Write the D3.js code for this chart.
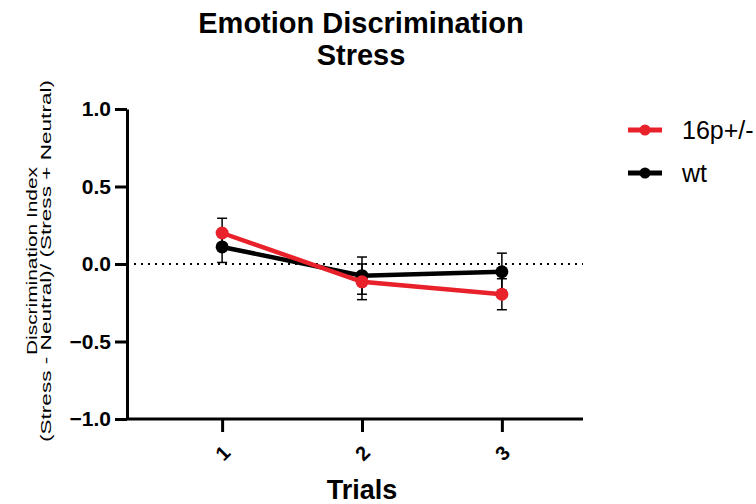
<!DOCTYPE html>
<html>
<head>
<meta charset="utf-8">
<script src="https://cdn.jsdelivr.net/npm/d3@7"></script>
<style>
  body { margin: 0; background: #fff; }
  text { font-family: "Liberation Sans", Arial, sans-serif; }
</style>
</head>
<body>
<svg id="chart" width="756" height="504"></svg>
<script>
// data
const trials = [1, 2, 3];
const seriesNames = ['16p+/-', 'wt'];
const seriesColors = ['#e8212b', '#000000'];
const mutMean = [0.20, -0.115, -0.195];
const mutSem = [0.095, 0.115, 0.10];
const wtMean = [0.11, -0.075, -0.05];
const wtSem = [0.10, 0.12, 0.12];
const yTicks = [-1.0, -0.5, 0.0, 0.5, 1.0];

const svg = d3.select('#chart');
const FONT = '"Liberation Sans", Arial, sans-serif';

// layout
const plotLeft = 127, plotRight = 583, plotTop = 109, plotBottom = 419;

const x = d3.scaleLinear().domain([0.32, 3.58]).range([plotLeft, plotRight]);
const y = d3.scaleLinear().domain([-1, 1]).range([plotBottom, plotTop]);

// zero line (dotted)
svg.append('line')
  .attr('x1', plotLeft).attr('x2', plotRight)
  .attr('y1', y(0)).attr('y2', y(0))
  .attr('stroke', '#000').attr('stroke-width', 2)
  .attr('stroke-dasharray', '2,5');

// y axis
const yAxis = svg.append('g')
  .attr('transform', `translate(${plotLeft},0)`)
  .call(d3.axisLeft(y).tickValues(yTicks).tickFormat(d3.format('.1f')).tickSize(12).tickSizeOuter(0));
yAxis.select('.domain').attr('stroke-width', 3);
yAxis.selectAll('.tick line').attr('stroke-width', 3);
yAxis.selectAll('.tick text')
  .attr('font-size', 21).attr('font-weight', 'bold')
  .attr('font-family', FONT)
  .attr('fill', '#000').attr('x', -16);

// x axis
const xAxis = svg.append('g')
  .attr('transform', `translate(0,${plotBottom})`)
  .call(d3.axisBottom(x).tickValues(trials).tickFormat(d3.format('d')).tickSize(13).tickSizeOuter(0));
xAxis.select('.domain').attr('stroke-width', 3).attr('d', `M${plotLeft},0H${plotRight}`);
xAxis.selectAll('.tick line').attr('stroke-width', 3);
xAxis.selectAll('.tick text')
  .attr('font-size', 20).attr('font-weight', 'bold')
  .attr('font-family', FONT)
  .attr('fill', '#000')
  .attr('y', 0).attr('dy', 0)
  .attr('text-anchor', 'middle')
  .attr('dominant-baseline', 'central')
  .attr('transform', 'translate(0,34) rotate(-45)');

// series
const series = [
  { name: seriesNames[0], color: seriesColors[0], mean: mutMean, sem: mutSem },
  { name: seriesNames[1], color: seriesColors[1], mean: wtMean, sem: wtSem }
];

// wt first, red on top
[series[1], series[0]].forEach(s => {
  const pts = trials.map((t, i) => ({ t, m: s.mean[i], e: s.sem[i] }));
  const g = svg.append('g');
  pts.forEach(p => {
    g.append('line')
      .attr('x1', x(p.t)).attr('x2', x(p.t))
      .attr('y1', y(p.m - p.e)).attr('y2', y(p.m + p.e))
      .attr('stroke', '#000').attr('stroke-width', 1.5);
    [p.m - p.e, p.m + p.e].forEach(v => {
      g.append('line')
        .attr('x1', x(p.t) - 5).attr('x2', x(p.t) + 5)
        .attr('y1', y(v)).attr('y2', y(v))
        .attr('stroke', '#000').attr('stroke-width', 1.5);
    });
  });
  g.append('path')
    .datum(pts)
    .attr('fill', 'none').attr('stroke', s.color).attr('stroke-width', 4.5)
    .attr('d', d3.line().x(d => x(d.t)).y(d => y(d.m)));
  g.selectAll('circle').data(pts).enter().append('circle')
    .attr('cx', d => x(d.t)).attr('cy', d => y(d.m)).attr('r', 6.5)
    .attr('fill', s.color);
});

// titles
svg.append('text').attr('x', 361).attr('y', 33).attr('text-anchor', 'middle')
  .attr('font-size', 29).attr('font-weight', 'bold').text('Emotion Discrimination');
svg.append('text').attr('x', 361).attr('y', 65).attr('text-anchor', 'middle')
  .attr('font-size', 29).attr('font-weight', 'bold').text('Stress');

svg.append('text').attr('x', 362).attr('y', 499).attr('text-anchor', 'middle')
  .attr('font-size', 27).attr('font-weight', 'bold').text('Trials');

// y title, two lines, stretched like the original
const yTitle = svg.append('g').attr('transform', 'translate(0,261) rotate(-90)');
yTitle.append('text').attr('x', 0).attr('y', 37).attr('text-anchor', 'middle')
  .attr('font-size', 15.5).attr('textLength', 188).attr('lengthAdjust', 'spacingAndGlyphs')
  .text('Discrimination Index');
yTitle.append('text').attr('x', 0).attr('y', 51).attr('text-anchor', 'middle')
  .attr('font-size', 15.5).attr('textLength', 362).attr('lengthAdjust', 'spacingAndGlyphs')
  .text('(Stress - Neutral)/ (Stress + Neutral)');

// legend
series.forEach((s, i) => {
  const ly = 130 + i * 43;
  svg.append('line').attr('x1', 628).attr('x2', 662).attr('y1', ly).attr('y2', ly)
    .attr('stroke', s.color).attr('stroke-width', 5);
  svg.append('circle').attr('cx', 645).attr('cy', ly).attr('r', 5.5).attr('fill', s.color);
  svg.append('text').attr('x', 682).attr('y', ly).attr('dy', '0.35em')
    .attr('font-size', 25).text(s.name);
});
</script>
</body>
</html>
